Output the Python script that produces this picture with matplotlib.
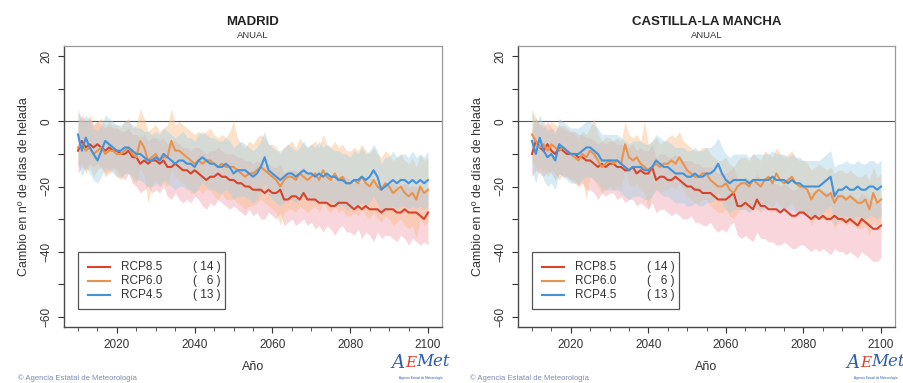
import numpy as np
import matplotlib
matplotlib.use("Agg")
import matplotlib.pyplot as plt
from matplotlib.patches import Rectangle
from matplotlib.lines import Line2D

plt.rcParams['font.family'] = ['Liberation Sans', 'DejaVu Sans']

years = list(range(2010, 2101))
scenarios = ["RCP8.5", "RCP6.0", "RCP4.5"]
n_models = ["( 14 )", "(   6 )", "( 13 )"]
panel_titles = ["MADRID", "CASTILLA-LA MANCHA"]
subtitle = "ANUAL"

# ---------------- MADRID ----------------
mad_85 = [-9, -6, -8, -7, -8, -7, -8, -9, -8, -9,
          -9, -10, -10, -9, -11, -11, -13, -12, -13, -12,
          -12, -13, -12, -14, -14, -13, -14, -15, -15, -16,
          -15, -16, -17, -18, -17, -17, -16, -17, -17, -18,
          -18, -19, -19, -20, -20, -21, -21, -21, -22, -21,
          -22, -22, -21, -24, -24, -23, -23, -24, -22, -24,
          -24, -24, -25, -25, -25, -26, -26, -25, -25, -25,
          -26, -27, -26, -27, -26, -27, -27, -27, -28, -27,
          -27, -27, -28, -28, -27, -28, -28, -28, -29, -30,
          -28]
mad_85_lo = [-16, -14, -15, -13, -14, -13, -14, -16, -15, -14,
             -15, -17, -18, -16, -19, -20, -22, -21, -20, -22,
             -21, -22, -20, -23, -24, -22, -24, -25, -24, -25,
             -23, -24, -26, -27, -25, -26, -24, -25, -26, -27,
             -26, -27, -28, -29, -27, -29, -28, -30, -30, -28,
             -29, -30, -28, -32, -31, -30, -32, -31, -30, -32,
             -31, -33, -32, -34, -32, -33, -35, -33, -32, -34,
             -34, -35, -33, -36, -34, -35, -37, -34, -36, -35,
             -35, -36, -37, -35, -36, -38, -36, -37, -38, -37,
             -38]
mad_85_hi = [-1, 2, 0, 1, -1, 0, -1, -2, -1, -2,
             -2, -3, -3, -2, -4, -4, -5, -4, -6, -5,
             -5, -6, -5, -7, -6, -6, -7, -8, -8, -9,
             -8, -8, -9, -10, -9, -9, -8, -9, -10, -10,
             -10, -11, -11, -12, -12, -13, -12, -13, -14, -13,
             -14, -14, -13, -16, -15, -15, -15, -16, -14, -16,
             -16, -16, -17, -17, -16, -18, -18, -17, -17, -17,
             -18, -19, -18, -19, -18, -19, -19, -19, -20, -19,
             -19, -19, -20, -20, -19, -20, -20, -20, -21, -22,
             -20]
mad_60 = [-8, -7, -9, -8, -10, -9, -8, -10, -9, -9,
          -10, -10, -9, -8, -10, -11, -6, -8, -12, -11,
          -10, -12, -11, -11, -6, -9, -9, -10, -11, -12,
          -13, -12, -13, -12, -12, -13, -14, -13, -14, -14,
          -14, -15, -16, -17, -16, -16, -15, -14, -15, -16,
          -17, -18, -20, -18, -17, -17, -18, -16, -17, -18,
          -17, -16, -18, -15, -17, -18, -16, -18, -17, -19,
          -19, -18, -19, -17, -19, -20, -18, -20, -21, -19,
          -20, -22, -21, -20, -22, -23, -22, -24, -20, -22,
          -21]
mad_60_lo = [-14, -13, -16, -14, -17, -15, -14, -17, -16, -15,
             -17, -18, -16, -15, -18, -19, -14, -17, -25, -20,
             -18, -20, -19, -20, -15, -17, -18, -19, -20, -22,
             -22, -21, -22, -21, -21, -23, -24, -22, -24, -24,
             -24, -25, -26, -27, -26, -26, -25, -24, -25, -26,
             -27, -28, -32, -28, -27, -27, -28, -26, -27, -28,
             -27, -26, -28, -25, -27, -28, -26, -28, -27, -29,
             -29, -28, -29, -27, -29, -30, -28, -30, -31, -29,
             -30, -32, -31, -30, -32, -33, -32, -36, -30, -32,
             -31]
mad_60_hi = [3, 1, 0, 2, -1, 0, 1, -1, 0, -1,
             -1, -2, 0, 1, -2, -1, 4, 1, -3, -2,
             -1, -3, -2, -1, 4, -1, 0, -1, -2, -3,
             -4, -3, -4, -3, -2, -4, -5, -4, -5, -3,
             0, -5, -7, -8, -6, -7, -5, -4, -5, -7,
             -7, -8, -10, -8, -7, -6, -8, -5, -7, -8,
             -7, -6, -8, -4, -7, -8, -6, -8, -7, -9,
             -9, -8, -9, -7, -9, -10, -8, -10, -11, -9,
             -10, -12, -11, -10, -12, -13, -11, -14, -10, -12,
             -11]
mad_45 = [-4, -9, -5, -8, -10, -12, -9, -6, -7, -8,
          -9, -9, -8, -8, -9, -10, -10, -11, -12, -12,
          -11, -12, -10, -11, -12, -13, -12, -12, -13, -13,
          -14, -12, -11, -12, -13, -13, -14, -14, -13, -14,
          -16, -15, -15, -15, -16, -17, -16, -14, -11, -15,
          -16, -17, -18, -17, -16, -16, -17, -16, -15, -16,
          -16, -17, -16, -17, -16, -17, -17, -18, -18, -19,
          -19, -18, -18, -17, -18, -17, -15, -17, -21, -20,
          -19, -18, -19, -18, -18, -19, -18, -19, -18, -19,
          -18]
mad_45_lo = [-13, -17, -14, -16, -18, -19, -17, -14, -15, -16,
             -17, -17, -16, -16, -17, -18, -18, -19, -20, -20,
             -19, -20, -18, -19, -20, -21, -20, -20, -21, -21,
             -22, -20, -19, -20, -21, -21, -22, -22, -21, -22,
             -24, -23, -23, -23, -24, -25, -24, -22, -19, -23,
             -24, -25, -26, -25, -24, -24, -25, -24, -23, -24,
             -24, -25, -24, -25, -24, -25, -25, -26, -26, -27,
             -27, -26, -26, -25, -26, -25, -23, -25, -29, -28,
             -27, -26, -27, -26, -26, -27, -26, -27, -26, -27,
             -26]
mad_45_hi = [4, 0, 2, 0, -2, -3, -1, 2, 1, 0,
             -1, -1, 0, 0, -1, -2, -2, -3, -3, -4,
             -3, -4, -2, -3, -4, -5, -4, -3, -5, -5,
             -6, -4, -3, -4, -5, -5, -6, -6, -5, -6,
             -8, -7, -6, -7, -8, -9, -8, -6, -3, -7,
             -8, -9, -9, -8, -7, -8, -9, -8, -6, -8,
             -7, -8, -6, -8, -7, -8, -9, -9, -10, -10,
             -11, -9, -10, -8, -10, -9, -7, -9, -13, -11,
             -11, -9, -11, -10, -10, -11, -9, -11, -10, -11,
             -9]

# ---------------- CASTILLA-LA MANCHA ----------------
clm_85 = [-10, -6, -8, -9, -7, -9, -10, -8, -9, -10,
          -10, -10, -11, -11, -12, -12, -13, -14, -13, -14,
          -13, -13, -14, -14, -15, -15, -14, -16, -15, -16,
          -16, -14, -18, -17, -17, -18, -18, -17, -18, -19,
          -20, -20, -21, -21, -22, -22, -22, -23, -24, -24,
          -24, -23, -22, -26, -26, -25, -26, -27, -24, -26,
          -26, -27, -27, -27, -28, -27, -28, -29, -29, -28,
          -28, -29, -30, -29, -30, -29, -30, -30, -29, -30,
          -30, -31, -30, -31, -32, -30, -31, -32, -33, -33,
          -32]
clm_85_lo = [-17, -15, -16, -17, -15, -16, -18, -16, -17, -17,
             -18, -18, -20, -19, -21, -21, -22, -24, -22, -23,
             -22, -22, -24, -23, -25, -24, -24, -26, -25, -26,
             -27, -25, -28, -27, -27, -28, -29, -28, -29, -30,
             -30, -29, -31, -31, -32, -32, -31, -33, -34, -33,
             -34, -32, -31, -35, -36, -35, -36, -37, -34, -36,
             -36, -37, -37, -38, -38, -37, -38, -39, -39, -38,
             -38, -39, -40, -39, -40, -39, -40, -41, -39, -40,
             -40, -41, -40, -41, -42, -40, -41, -42, -43, -43,
             -42]
clm_85_hi = [-3, 1, -1, -2, 0, -2, -3, -1, -2, -3,
             -3, -3, -4, -4, -5, -5, -6, -7, -6, -7,
             -6, -6, -7, -7, -8, -8, -7, -9, -8, -9,
             -9, -7, -11, -10, -10, -11, -11, -10, -11, -12,
             -12, -12, -13, -13, -14, -14, -14, -15, -16, -16,
             -16, -15, -14, -18, -18, -17, -18, -19, -16, -18,
             -18, -19, -19, -19, -20, -19, -20, -21, -21, -20,
             -20, -21, -22, -21, -22, -21, -22, -22, -21, -22,
             -22, -23, -22, -23, -24, -22, -23, -24, -25, -25,
             -24]
clm_60 = [-4, -6, -8, -7, -9, -7, -8, -9, -8, -9,
          -10, -11, -12, -10, -11, -9, -10, -12, -14, -13,
          -12, -13, -12, -13, -7, -11, -12, -11, -13, -14,
          -15, -14, -13, -14, -13, -13, -12, -13, -11, -13,
          -15, -16, -17, -17, -16, -16, -18, -19, -20, -20,
          -19, -21, -22, -20, -19, -19, -20, -18, -19, -20,
          -18, -17, -19, -16, -18, -19, -18, -17, -19, -20,
          -20, -21, -24, -22, -21, -22, -23, -22, -25, -23,
          -23, -24, -23, -24, -25, -25, -24, -27, -22, -25,
          -24]
clm_60_lo = [-12, -14, -16, -15, -17, -15, -16, -18, -16, -17,
             -18, -19, -20, -18, -24, -17, -18, -20, -22, -21,
             -20, -21, -20, -21, -15, -19, -20, -19, -21, -22,
             -27, -22, -21, -22, -21, -21, -20, -21, -19, -21,
             -23, -24, -25, -25, -24, -24, -26, -27, -28, -28,
             -27, -29, -30, -28, -27, -27, -28, -26, -27, -28,
             -26, -25, -27, -24, -26, -27, -26, -25, -27, -28,
             -28, -29, -32, -30, -29, -30, -31, -30, -33, -31,
             -31, -32, -31, -32, -33, -33, -32, -35, -30, -33,
             -32]
clm_60_hi = [4, 1, -1, 0, -2, 0, -1, -2, -1, -2,
             -3, -4, -5, -3, -4, -2, 1, -4, -6, -5,
             -5, -6, -5, -6, 0, -4, -5, -4, -6, 0,
             -7, -6, -5, -7, -6, -5, -4, -5, -3, -6,
             -7, -8, -9, -9, -8, -8, -10, -11, -12, -12,
             -11, -13, -14, -12, -11, -11, -12, -10, -11, -12,
             -9, -10, -11, -8, -10, -11, -10, -9, -11, -12,
             -12, -13, -15, -14, -13, -14, -15, -14, -16, -15,
             -15, -16, -15, -16, -17, -17, -16, -18, -14, -17,
             -16]
clm_45 = [-6, -10, -5, -9, -11, -10, -12, -7, -8, -9,
          -10, -10, -10, -9, -8, -8, -9, -10, -12, -12,
          -12, -12, -12, -13, -14, -15, -14, -14, -14, -15,
          -15, -14, -12, -13, -14, -14, -15, -16, -16, -16,
          -17, -17, -16, -17, -17, -16, -16, -15, -13, -16,
          -18, -19, -18, -18, -18, -18, -19, -18, -18, -18,
          -18, -18, -17, -18, -18, -18, -19, -18, -19, -19,
          -20, -20, -20, -20, -20, -19, -18, -17, -23, -21,
          -21, -20, -21, -21, -20, -21, -21, -20, -20, -21,
          -20]
clm_45_lo = [-15, -19, -14, -18, -20, -19, -21, -16, -17, -18,
             -19, -19, -19, -18, -17, -17, -18, -19, -21, -21,
             -21, -21, -21, -22, -23, -24, -23, -23, -23, -24,
             -24, -23, -21, -22, -23, -23, -24, -25, -25, -25,
             -26, -26, -25, -26, -26, -25, -25, -24, -22, -25,
             -27, -28, -27, -27, -27, -27, -28, -27, -27, -27,
             -27, -27, -26, -27, -27, -27, -28, -27, -28, -28,
             -29, -29, -29, -29, -29, -28, -27, -26, -32, -30,
             -30, -29, -30, -30, -29, -30, -30, -29, -29, -30,
             -29]
clm_45_hi = [3, -1, 2, -1, -3, -2, -4, 1, 0, -1,
             -2, -2, -2, -1, 0, 0, -1, -2, -4, -4,
             -4, -4, -4, -5, -6, -7, -6, -6, -6, -7,
             -7, -6, -4, -5, -6, -6, -7, -8, -8, -8,
             -9, -9, -8, -9, -9, -8, -8, -7, -5, -8,
             -10, -11, -10, -10, -10, -10, -11, -10, -10, -10,
             -10, -10, -9, -10, -10, -10, -11, -10, -11, -11,
             -12, -12, -12, -12, -12, -11, -10, -9, -14, -13,
             -13, -12, -13, -13, -12, -13, -13, -12, -12, -13,
             -12]

panels = [
    [(mad_85, mad_85_lo, mad_85_hi), (mad_60, mad_60_lo, mad_60_hi), (mad_45, mad_45_lo, mad_45_hi)],
    [(clm_85, clm_85_lo, clm_85_hi), (clm_60, clm_60_lo, clm_60_hi), (clm_45, clm_45_lo, clm_45_hi)],
]

line_colors = ["#d7442c", "#e9944e", "#4292dc"]
fill_colors = ["#f2a3b3", "#f9c08a", "#9ccfe6"]
fill_alpha = [0.45, 0.45, 0.40]

W, H = 904, 383
fig = plt.figure(figsize=(W / 100, H / 100), dpi=100)

axes_px = [(64, 46, 442, 327), (518, 46, 895, 327)]

for idx, (x0, y0, x1, y1) in enumerate(axes_px):
    ax = fig.add_axes([x0 / W, 1 - y1 / H, (x1 - x0) / W, (y1 - y0) / H])
    ax.set_xlim(2006.4, 2103.6)
    ax.set_ylim(-63.2, 23.2)
    ax.axhline(0, color="#555555", lw=0.8, zorder=1)

    yrs = np.array(years)
    for k in range(3):
        m, lo, hi = panels[idx][k]
        ax.fill_between(yrs, lo, hi, color=fill_colors[k], alpha=fill_alpha[k], lw=0, zorder=2)
    for k in range(3):
        m, lo, hi = panels[idx][k]
        ax.plot(yrs, m, color=line_colors[k], lw=1.5, zorder=3)

    # axes styling (R-like)
    for s in ["top", "right"]:
        ax.spines[s].set_color("#9a9a9a")
        ax.spines[s].set_linewidth(0.9)
    for s in ["left", "bottom"]:
        ax.spines[s].set_color("#4a4a4a")
        ax.spines[s].set_linewidth(1.0)
    ax.set_yticks([20, 0, -20, -40, -60])
    ax.set_yticks([10, -10, -30, -50], minor=True)
    ax.set_xticks([2020, 2040, 2060, 2080, 2100])
    ax.set_xticks(list(range(2010, 2101, 5)), minor=True)
    ax.tick_params(axis="y", which="both", direction="out", length=4, width=0.8,
                   color="#333333", labelsize=8.5, labelcolor="#333333", pad=4)
    ax.tick_params(axis="y", which="major", labelrotation=90)
    for lab in ax.get_yticklabels():
        lab.set_va("center")
    ax.tick_params(axis="x", which="major", direction="out", length=4, width=0.8,
                   color="#333333", labelsize=8.5, labelcolor="#333333", pad=5)
    ax.tick_params(axis="x", which="minor", direction="out", length=3, width=0.7,
                   color="#555555")
    ax.set_xlabel("Año", fontsize=9, color="#333333", labelpad=7)
    ax.set_ylabel("Cambio en nº de días de helada", fontsize=9, color="#333333", labelpad=8)

    ax.text(0.5, 1 + (46 - 22) / 281, panel_titles[idx], transform=ax.transAxes,
            ha="center", va="center", fontsize=9.5, fontweight="bold", color="#222222")
    ax.text(0.5, 1 + (46 - 36) / 281, subtitle, transform=ax.transAxes,
            ha="center", va="center", fontsize=6.8, color="#333333")

    # legend (manual, R style)
    ax.add_patch(Rectangle((0.037, 0.064), 0.389, 0.203, transform=ax.transAxes,
                           fill=True, facecolor="white", edgecolor="#555555",
                           lw=0.9, zorder=5))
    rows = [0.2135, 0.164, 0.114]
    for k in range(3):
        ax.add_line(Line2D([0.064, 0.122], [rows[k], rows[k]], transform=ax.transAxes,
                           color=line_colors[k], lw=1.5, zorder=6))
        ax.text(0.151, rows[k], scenarios[k], transform=ax.transAxes, ha="left",
                va="center", fontsize=8.5, color="#333333", zorder=6)
        ax.text(0.415, rows[k], n_models[k], transform=ax.transAxes, ha="right",
                va="center", fontsize=8.5, color="#333333", zorder=6)

    # footer
    fx = (18 + idx * 452) / W
    fig.text(fx, 1 - 378 / H, "© Agencia Estatal de Meteorología", fontsize=5.5,
             color="#7a8ab0", ha="left", va="center")
    lx = (391 + idx * 455) / W
    fig.text(lx, 1 - 363 / H, "A", fontsize=13, color="#2a5cb0", style="italic",
             family="DejaVu Serif", ha="left", va="center")
    fig.text(lx + 14 / W, 1 - 363 / H, "E", fontsize=11, color="#d8402c", style="italic",
             family="DejaVu Serif", ha="left", va="center")
    fig.text(lx + 25 / W, 1 - 362 / H, "Met", fontsize=12, color="#2a5cb0", style="italic",
             family="DejaVu Serif", ha="left", va="center")
    fig.text(lx + 30 / W, 1 - 378 / H, "Agencia Estatal de Meteorología", fontsize=2.2,
             color="#2a5cb0", ha="center", va="center")

fig.savefig("out.png", dpi=100)
